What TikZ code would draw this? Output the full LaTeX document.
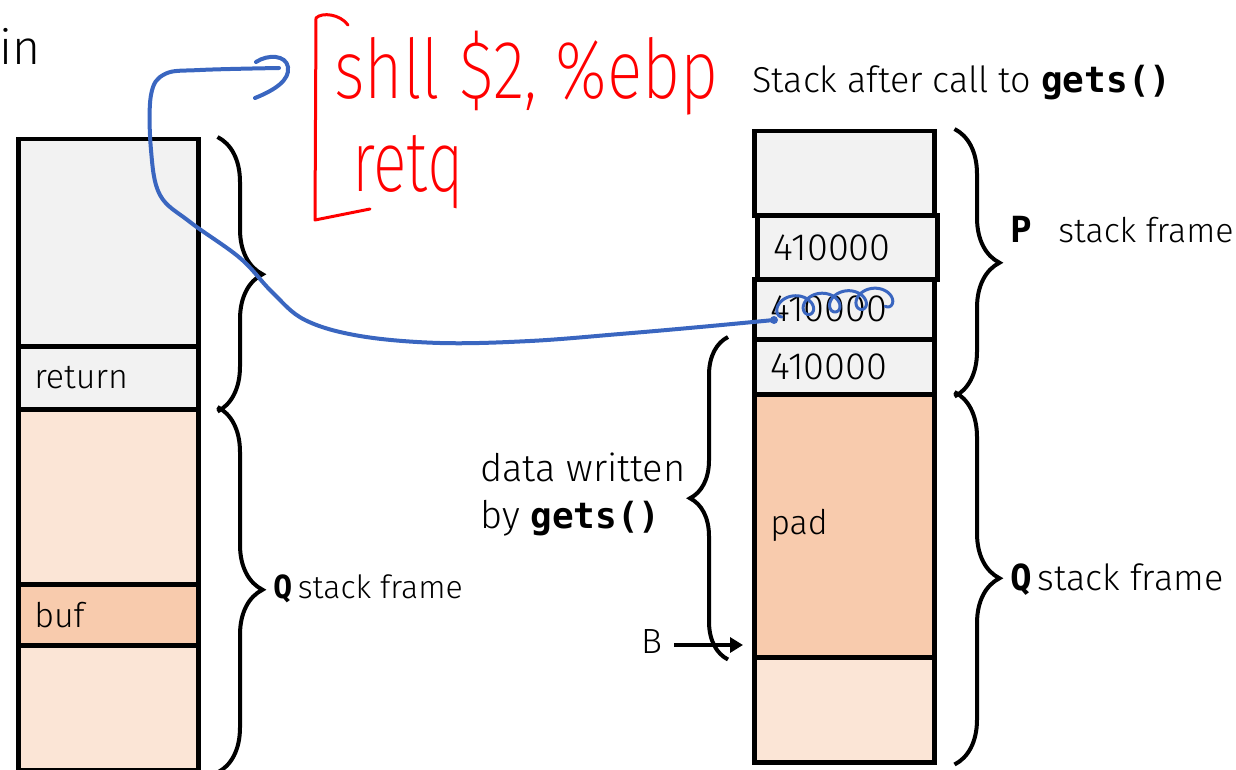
\documentclass[tikz,border=0pt]{standalone}
\usepackage{fontspec}
\setmainfont{Fira Sans Light}
\newfontfamily\codefont{DejaVu Sans Mono}
\newfontfamily\penfont{Fira Sans ExtraLight}
\usetikzlibrary{decorations.pathreplacing,arrows.meta,calc}
\definecolor{cellgray}{HTML}{F2F2F2}
\definecolor{lpeach}{HTML}{FBE5D6}
\definecolor{peach}{HTML}{F8CBAD}
\definecolor{inkblue}{HTML}{3A66C0}
\newcommand{\cod}[1]{{\codefont\bfseries #1}}
\begin{document}
\begin{tikzpicture}[x=1pt,y=-1pt,
  cell/.style={draw, line width=4.5pt, minimum width=180pt, inner xsep=16pt,
    text width=148pt, align=left, anchor=north west,
    font=\fontsize{34}{40}\selectfont},
  brc/.style={decorate, decoration={brace, amplitude=45pt}, line width=4pt},
  lbl/.style={anchor=base west, inner sep=0pt, font=\fontsize{32}{38}\selectfont},
  rlbl/.style={lbl, font=\fontsize{36}{42}\selectfont},
  digits/.style={font=\fontsize{38}{44}\selectfont},
  ink/.style={inkblue, line width=4pt, line cap=round, line join=round},
  redink/.style={red, line width=3pt, line cap=round, line join=round},
  redtext/.style={anchor=base west, inner sep=0pt, red, font=\fontsize{66}{70}\penfont}]
\useasboundingbox (0,0) rectangle (1236,770);

% title fragment at the top left
\node[lbl, font=\fontsize{48}{56}\selectfont] (frag) at (-1,65) {in};

% stack before the call
\node[cell, fill=cellgray, minimum height=207pt] (L1) at (16,137) {};
\node[cell, fill=cellgray, minimum height=63pt] (L2) at (16,344) {return};
\node[cell, fill=lpeach, minimum height=175pt] (L3) at (16,407) {};
\node[cell, fill=peach, minimum height=61pt] (L4) at (16,582) {buf};
\node[cell, fill=lpeach, minimum height=125pt] (L5) at (16,643) {};

\draw[brc] ($(L1.north east)+(17,0)$) -- ($(L2.south east)+(17,0)$);
\draw[brc] ($(L3.north east)+(17,0)$) -- ($(L5.south east)+(17,0)$);
\node[lbl] (lq) at (273,598) {\cod{Q}\,stack frame};

% stack after the call to gets()
\node[rlbl] (title) at (752,93) {Stack after call to \cod{gets()}};
\node[cell, fill=cellgray, minimum height=84pt] (R1) at (752,129) {};
\node[cell, fill=cellgray, minimum height=60pt, digits] (R3) at (752,277) {410000};
\node[cell, fill=cellgray, minimum height=55pt, digits] (R4) at (752,337) {410000};
\node[cell, fill=cellgray, minimum height=64pt, line width=5pt, digits] (R2) at (755,213) {410000};
\node[cell, fill=peach, minimum height=263pt] (R5) at (752,392) {pad};
\node[cell, fill=lpeach, minimum height=105pt] (R6) at (752,655) {};

\draw[brc] ($(R1.north east)+(18,0)$) -- ($(R4.south east)+(18,0)$);
\draw[brc] ($(R5.north east)+(18,0)$) -- ($(R6.south east)+(18,0)$);
\node[rlbl, font=\fontsize{34}{40}\selectfont] (pl) at (1010,242) {\cod{\fontsize{36}{40}\selectfont P}\enspace\ stack frame};
\node[rlbl] (ql) at (1010,590) {\cod{Q}\,stack frame};

% region overwritten by gets()
\draw[brc, decoration={amplitude=38pt}] ($(R5.south west)+(-24,0)$) -- ($(R4.north west)+(-24,0)$);
\node[lbl, font=\fontsize{38}{44}\selectfont] (dw1) at (480,481) {data written};
\node[lbl, font=\fontsize{38}{44}\selectfont] (dw2) at (480,528) {by \cod{\fontsize{36}{40}\selectfont gets()}};
\node[lbl, font=\fontsize{35}{40}\selectfont] (B) at (641,653) {B};
\coordinate (Btip) at (743,645);
\draw[line width=4.5pt, -{Triangle[length=13pt,width=15pt]}]
  ([xshift=12pt]B.east |- Btip) -- (Btip);

% handwritten annotation: the injected code
\draw[redink] (348,25) .. controls (340,14) and (322,12) .. (316,18)
  -- (315,220) -- (370,209);
\node[redtext] (code1) at (334,99) {\scalebox{1}[1.25]{shll \$2, \%ebp}};
\node[redtext] (code2) at (352,192) {\scalebox{0.95}[1.3]{retq}};

% overwritten return address redirected to the code
\draw[ink] plot[smooth, tension=0.6] coordinates {
  (279,68) (200,70) (165,74) (151,95) (151,150) (160,195) (190,222)
  (240,258) (272,292) (305,320) (360,336) (440,343) (530,341)
  (620,334) (700,327) (774,320)};
\draw[ink] (255,98) .. controls (275,90) and (290,80) .. (288,67)
  .. controls (286,55) and (268,54) .. (256,62);
\fill[inkblue] (774,320) circle (4pt);
\draw[ink, line width=3pt] plot[domain=0:25.5, samples=220, variable=\t]
  ({782+4.2*\t-11*sin(\t r)}, {307+10*cos(\t r)-0.4*\t});
\end{tikzpicture}
\end{document}
